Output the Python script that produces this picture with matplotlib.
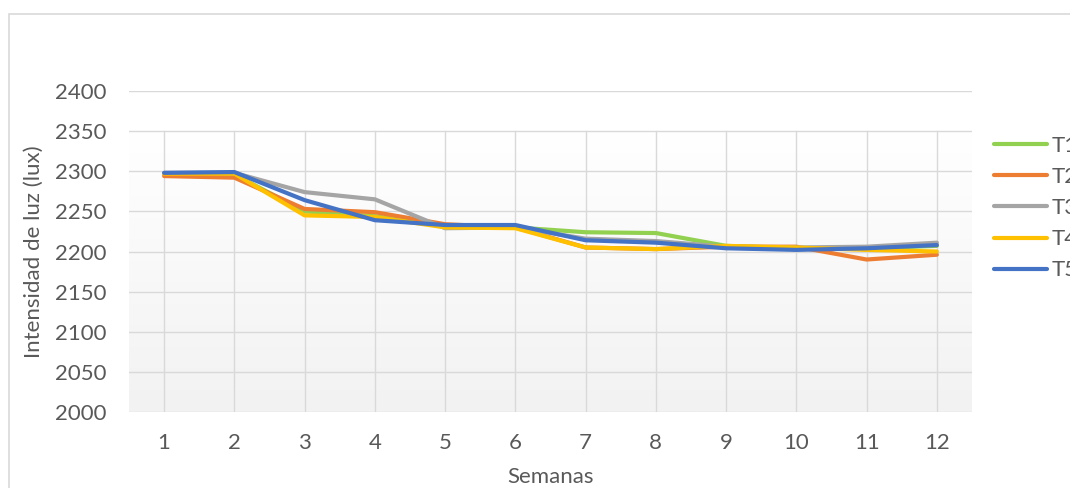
import numpy as np
import matplotlib.pyplot as plt
from matplotlib.patches import Rectangle
from matplotlib.colors import LinearSegmentedColormap

plt.rcParams['font.family'] = ['Lato', 'DejaVu Sans']

semanas = list(range(1, 13))
t1 = [2297, 2296, 2250, 2244, 2232, 2230, 2224, 2223, 2207, 2204, 2204, 2207]
t2 = [2294, 2292, 2253, 2249, 2234, 2230, 2205, 2203, 2206, 2206, 2190, 2196]
t3 = [2298, 2298, 2274, 2265, 2229, 2230, 2216, 2213, 2206, 2205, 2206, 2211]
t4 = [2297, 2297, 2245, 2243, 2230, 2229, 2205, 2203, 2207, 2205, 2202, 2200]
t5 = [2298, 2299, 2264, 2239, 2233, 2233, 2214, 2211, 2204, 2202, 2204, 2208]

series = [("T1", t1, "#92D050"), ("T2", t2, "#ED7D31"), ("T3", t3, "#A5A5A5"),
          ("T4", t4, "#FFC000"), ("T5", t5, "#4472C4")]

fig = plt.figure(figsize=(10.7, 4.88), dpi=100)
fig.patches.append(Rectangle((9 / 1070, -0.1), 1.1, 1 - 14 / 488 + 0.1,
                             transform=fig.transFigure, fill=False,
                             edgecolor="#d9d9d9", linewidth=1.2))
ax = fig.add_axes([129 / 1070, 1 - 412 / 488, 843 / 1070, 321 / 488])

# gradient background of the plot area
grad = np.linspace(0, 1, 256).reshape(-1, 1)
ax.imshow(grad, extent=[0.5, 12.5, 2000, 2350], aspect="auto",
          cmap=LinearSegmentedColormap.from_list("g", ["#f2f2f2", "#ffffff"]),
          origin="lower", zorder=0)

for y in range(2000, 2401, 50):
    ax.plot([0.5, 12.5], [y, y], color="#d9d9d9", linewidth=1, zorder=1)
for x in semanas:
    ax.plot([x, x], [2000, 2350], color="#d9d9d9", linewidth=1, zorder=1)

for name, vals, col in series:
    ax.plot(semanas, vals, color=col, linewidth=3, label=name, zorder=3,
            solid_capstyle="round", solid_joinstyle="round")

ax.set_xlim(0.5, 12.5)
ax.set_ylim(2000, 2400)
ax.set_xticks(semanas)
ax.set_yticks(range(2000, 2401, 50))
for s in ax.spines.values():
    s.set_visible(False)
ax.tick_params(length=0, labelsize=16, colors="#595959")
ax.tick_params(axis="x", pad=15)
ax.tick_params(axis="y", pad=16)

ax.set_xlabel("Semanas", fontsize=16, color="#595959", labelpad=10)
ax.set_ylabel("Intensidad de luz (lux)", fontsize=16, color="#595959", labelpad=8)

leg = ax.legend(loc="upper left", bbox_to_anchor=(994 / 1070, 1 - 136 / 488),
                bbox_transform=fig.transFigure, frameon=False, fontsize=16,
                handlelength=2.4, labelspacing=0.5, handletextpad=0.2,
                borderaxespad=0, borderpad=0)
for t in leg.get_texts():
    t.set_color("#595959")

fig.savefig("out.png", dpi=100)
